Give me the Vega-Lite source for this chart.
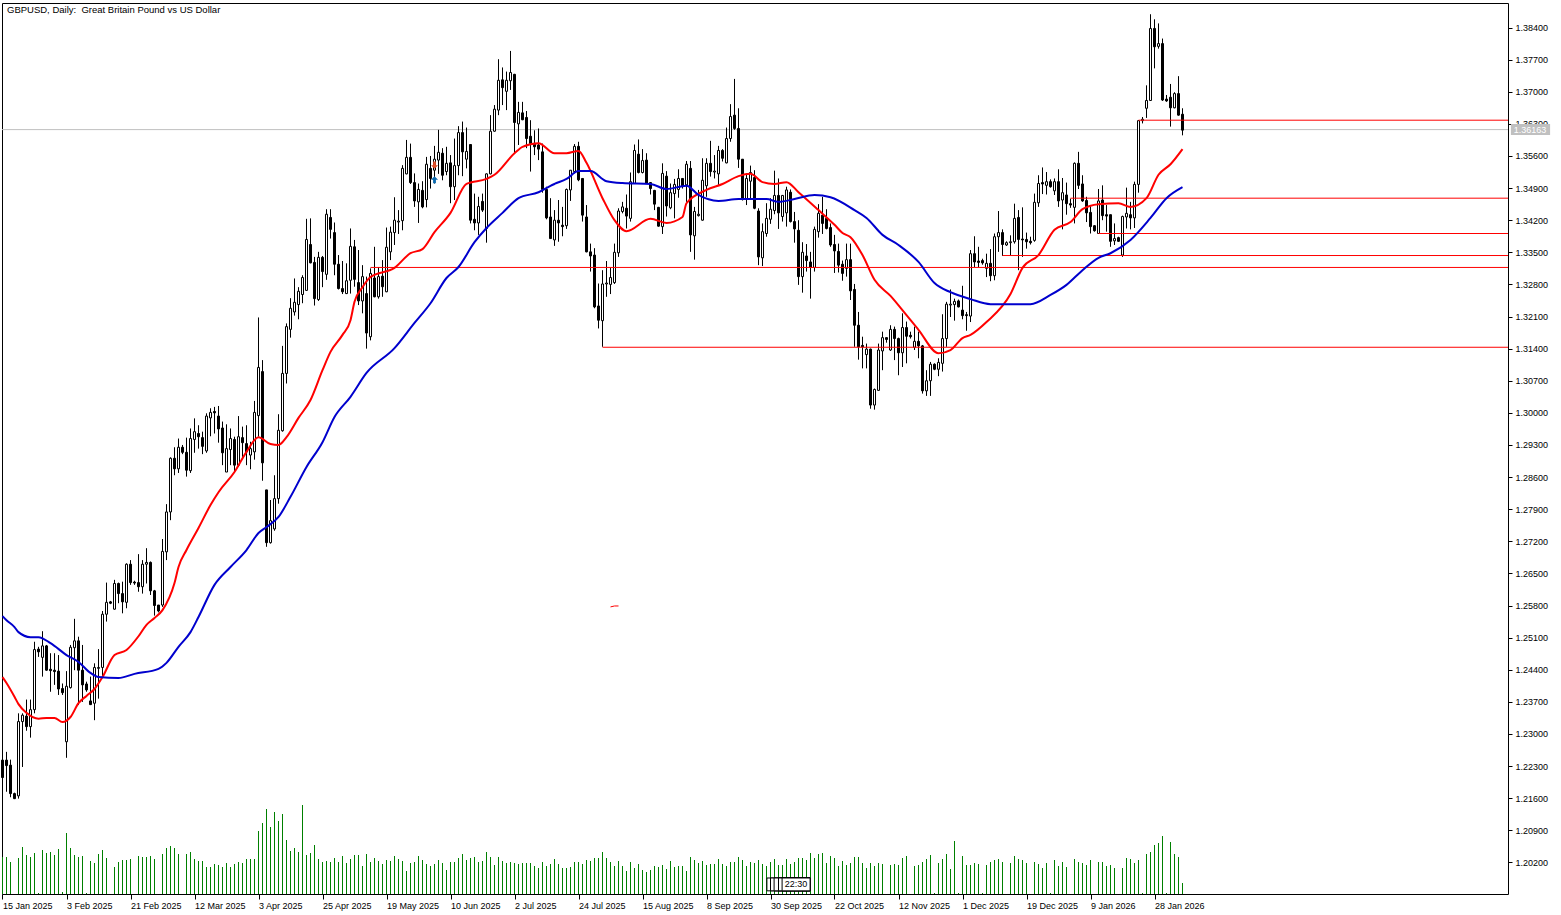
{
"$schema":"https://vega.github.io/schema/vega-lite/v6.json",
"autosize":"none",
"width":1506,"height":891,
"padding":{"left":2,"top":3,"right":53,"bottom":21},
"background":"#ffffff",
"config":{"view":{"stroke":"#000000","strokeWidth":1},"font":"Liberation Sans"},
"title":{"text":"GBPUSD, Daily:\u00a0 Great Britain Pound vs US Dollar","anchor":"start","frame":"group","dx":5,"offset":-11,"fontSize":9.5,"fontWeight":"normal","font":"Liberation Sans","color":"#000000"},
"datasets":{
"bars":[
{"i":0,"o":1.2243,"h":1.2250,"l":1.2200,"c":1.2205,"v":37},
{"i":1,"o":1.2243,"h":1.2261,"l":1.2174,"c":1.2231,"v":37},
{"i":2,"o":1.2232,"h":1.2244,"l":1.2162,"c":1.2170,"v":32},
{"i":3,"o":1.2170,"h":1.2172,"l":1.2158,"c":1.2159,"v":0},
{"i":4,"o":1.2165,"h":1.2345,"l":1.2159,"c":1.2327,"v":36},
{"i":5,"o":1.2327,"h":1.2345,"l":1.2228,"c":1.2341,"v":47},
{"i":6,"o":1.2339,"h":1.2375,"l":1.2307,"c":1.2316,"v":39},
{"i":7,"o":1.2316,"h":1.2375,"l":1.2292,"c":1.2353,"v":37},
{"i":8,"o":1.2353,"h":1.2501,"l":1.2345,"c":1.2484,"v":41},
{"i":9,"o":1.2485,"h":1.2490,"l":1.2468,"c":1.2479,"v":1},
{"i":10,"o":1.2467,"h":1.2524,"l":1.2425,"c":1.2492,"v":44},
{"i":11,"o":1.2492,"h":1.2494,"l":1.2438,"c":1.2439,"v":41},
{"i":12,"o":1.2441,"h":1.2476,"l":1.2392,"c":1.2438,"v":42},
{"i":13,"o":1.2439,"h":1.2476,"l":1.2407,"c":1.2436,"v":39},
{"i":14,"o":1.2437,"h":1.2472,"l":1.2385,"c":1.2398,"v":45},
{"i":15,"o":1.2399,"h":1.2410,"l":1.2385,"c":1.2390,"v":2},
{"i":16,"o":1.2283,"h":1.2437,"l":1.2248,"c":1.2404,"v":61},
{"i":17,"o":1.2401,"h":1.2494,"l":1.2399,"c":1.2489,"v":46},
{"i":18,"o":1.2488,"h":1.2551,"l":1.2439,"c":1.2503,"v":39},
{"i":19,"o":1.2503,"h":1.2512,"l":1.2363,"c":1.2439,"v":37},
{"i":20,"o":1.2439,"h":1.2494,"l":1.2370,"c":1.2407,"v":38},
{"i":21,"o":1.2409,"h":1.2414,"l":1.2392,"c":1.2396,"v":1},
{"i":22,"o":1.2372,"h":1.2425,"l":1.2363,"c":1.2364,"v":33},
{"i":23,"o":1.2367,"h":1.2454,"l":1.2330,"c":1.2445,"v":31},
{"i":24,"o":1.2443,"h":1.2485,"l":1.2377,"c":1.2445,"v":40},
{"i":25,"o":1.2445,"h":1.2568,"l":1.2425,"c":1.2561,"v":44},
{"i":26,"o":1.2561,"h":1.2630,"l":1.2545,"c":1.2587,"v":36},
{"i":27,"o":1.2588,"h":1.2590,"l":1.2583,"c":1.2585,"v":0},
{"i":28,"o":1.2572,"h":1.2636,"l":1.2571,"c":1.2628,"v":27},
{"i":29,"o":1.2628,"h":1.2630,"l":1.2585,"c":1.2606,"v":32},
{"i":30,"o":1.2606,"h":1.2632,"l":1.2563,"c":1.2588,"v":34},
{"i":31,"o":1.2587,"h":1.2672,"l":1.2574,"c":1.2670,"v":34},
{"i":32,"o":1.2670,"h":1.2679,"l":1.2625,"c":1.2630,"v":35},
{"i":33,"o":1.2631,"h":1.2634,"l":1.2625,"c":1.2629,"v":0},
{"i":34,"o":1.2630,"h":1.2692,"l":1.2610,"c":1.2621,"v":38},
{"i":35,"o":1.2621,"h":1.2679,"l":1.2606,"c":1.2670,"v":37},
{"i":36,"o":1.2670,"h":1.2705,"l":1.2628,"c":1.2674,"v":37},
{"i":37,"o":1.2674,"h":1.2676,"l":1.2603,"c":1.2612,"v":38},
{"i":38,"o":1.2612,"h":1.2614,"l":1.2558,"c":1.2580,"v":35},
{"i":39,"o":1.2581,"h":1.2581,"l":1.2565,"c":1.2568,"v":0},
{"i":40,"o":1.2581,"h":1.2725,"l":1.2577,"c":1.2698,"v":40},
{"i":41,"o":1.2697,"h":1.2801,"l":1.2679,"c":1.2784,"v":46},
{"i":42,"o":1.2784,"h":1.2903,"l":1.2766,"c":1.2901,"v":48},
{"i":43,"o":1.2901,"h":1.2925,"l":1.2864,"c":1.2878,"v":46},
{"i":44,"o":1.2878,"h":1.2944,"l":1.2869,"c":1.2925,"v":40},
{"i":45,"o":1.2925,"h":1.2930,"l":1.2910,"c":1.2914,"v":0},
{"i":46,"o":1.2914,"h":1.2946,"l":1.2861,"c":1.2875,"v":40},
{"i":47,"o":1.2874,"h":1.2966,"l":1.2869,"c":1.2944,"v":42},
{"i":48,"o":1.2942,"h":1.2988,"l":1.2913,"c":1.2959,"v":35},
{"i":49,"o":1.2955,"h":1.2973,"l":1.2922,"c":1.2948,"v":33},
{"i":50,"o":1.2946,"h":1.2959,"l":1.2910,"c":1.2927,"v":33},
{"i":51,"o":1.2917,"h":1.2999,"l":1.2913,"c":1.2993,"v":27},
{"i":52,"o":1.2989,"h":1.3010,"l":1.2949,"c":1.3001,"v":27},
{"i":53,"o":1.3003,"h":1.3013,"l":1.2955,"c":1.3000,"v":30},
{"i":54,"o":1.2993,"h":1.3015,"l":1.2935,"c":1.2965,"v":29},
{"i":55,"o":1.2967,"h":1.2981,"l":1.2886,"c":1.2913,"v":27},
{"i":56,"o":1.2871,"h":1.2975,"l":1.2871,"c":1.2922,"v":31},
{"i":57,"o":1.2920,"h":1.2966,"l":1.2886,"c":1.2944,"v":27},
{"i":58,"o":1.2942,"h":1.2948,"l":1.2871,"c":1.2886,"v":30},
{"i":59,"o":1.2886,"h":1.2993,"l":1.2882,"c":1.2948,"v":32},
{"i":60,"o":1.2946,"h":1.2970,"l":1.2904,"c":1.2935,"v":31},
{"i":61,"o":1.2933,"h":1.2973,"l":1.2886,"c":1.2915,"v":35},
{"i":62,"o":1.2908,"h":1.2937,"l":1.2877,"c":1.2922,"v":35},
{"i":63,"o":1.2915,"h":1.3026,"l":1.2898,"c":1.3001,"v":35},
{"i":64,"o":1.2994,"h":1.3208,"l":1.2948,"c":1.3099,"v":63},
{"i":65,"o":1.3090,"h":1.3115,"l":1.2852,"c":1.2891,"v":71},
{"i":66,"o":1.2832,"h":1.2832,"l":1.2708,"c":1.2717,"v":85},
{"i":67,"o":1.2717,"h":1.2810,"l":1.2715,"c":1.2765,"v":67},
{"i":68,"o":1.2747,"h":1.2864,"l":1.2743,"c":1.2813,"v":82},
{"i":69,"o":1.2813,"h":1.2997,"l":1.2802,"c":1.2962,"v":73},
{"i":70,"o":1.2961,"h":1.3146,"l":1.2959,"c":1.3086,"v":80},
{"i":71,"o":1.3086,"h":1.3195,"l":1.3064,"c":1.3188,"v":54},
{"i":72,"o":1.3182,"h":1.3250,"l":1.3164,"c":1.3228,"v":43},
{"i":73,"o":1.3220,"h":1.3293,"l":1.3212,"c":1.3241,"v":46},
{"i":74,"o":1.3236,"h":1.3274,"l":1.3204,"c":1.3265,"v":42},
{"i":75,"o":1.3258,"h":1.3300,"l":1.3239,"c":1.3295,"v":89},
{"i":76,"o":1.3267,"h":1.3423,"l":1.3266,"c":1.3378,"v":39},
{"i":77,"o":1.3367,"h":1.3424,"l":1.3326,"c":1.3327,"v":41},
{"i":78,"o":1.3328,"h":1.3340,"l":1.3234,"c":1.3249,"v":49},
{"i":79,"o":1.3247,"h":1.3351,"l":1.3244,"c":1.3339,"v":35},
{"i":80,"o":1.3339,"h":1.3342,"l":1.3274,"c":1.3308,"v":32},
{"i":81,"o":1.3302,"h":1.3444,"l":1.3290,"c":1.3433,"v":33},
{"i":82,"o":1.3426,"h":1.3444,"l":1.3380,"c":1.3400,"v":32},
{"i":83,"o":1.3393,"h":1.3415,"l":1.3300,"c":1.3324,"v":36},
{"i":84,"o":1.3324,"h":1.3344,"l":1.3269,"c":1.3271,"v":32},
{"i":85,"o":1.3271,"h":1.3331,"l":1.3259,"c":1.3264,"v":38},
{"i":86,"o":1.3260,"h":1.3326,"l":1.3259,"c":1.3288,"v":31},
{"i":87,"o":1.3289,"h":1.3402,"l":1.3260,"c":1.3363,"v":35},
{"i":88,"o":1.3362,"h":1.3377,"l":1.3275,"c":1.3291,"v":39},
{"i":89,"o":1.3284,"h":1.3355,"l":1.3235,"c":1.3244,"v":39},
{"i":90,"o":1.3244,"h":1.3322,"l":1.3217,"c":1.3297,"v":28},
{"i":91,"o":1.3260,"h":1.3297,"l":1.3140,"c":1.3174,"v":40},
{"i":92,"o":1.3166,"h":1.3315,"l":1.3158,"c":1.3304,"v":32},
{"i":93,"o":1.3294,"h":1.3362,"l":1.3252,"c":1.3253,"v":36},
{"i":94,"o":1.3253,"h":1.3318,"l":1.3249,"c":1.3297,"v":33},
{"i":95,"o":1.3298,"h":1.3333,"l":1.3253,"c":1.3275,"v":30},
{"i":96,"o":1.3264,"h":1.3404,"l":1.3263,"c":1.3361,"v":34},
{"i":97,"o":1.3351,"h":1.3406,"l":1.3333,"c":1.3394,"v":33},
{"i":98,"o":1.3393,"h":1.3470,"l":1.3366,"c":1.3420,"v":38},
{"i":99,"o":1.3416,"h":1.3442,"l":1.3390,"c":1.3418,"v":35},
{"i":100,"o":1.3419,"h":1.3540,"l":1.3398,"c":1.3533,"v":33},
{"i":101,"o":1.3521,"h":1.3595,"l":1.3520,"c":1.3557,"v":23},
{"i":102,"o":1.3557,"h":1.3587,"l":1.3499,"c":1.3502,"v":31},
{"i":103,"o":1.3502,"h":1.3522,"l":1.3449,"c":1.3462,"v":32},
{"i":104,"o":1.3460,"h":1.3500,"l":1.3414,"c":1.3487,"v":38},
{"i":105,"o":1.3485,"h":1.3505,"l":1.3446,"c":1.3449,"v":34},
{"i":106,"o":1.3465,"h":1.3558,"l":1.3448,"c":1.3542,"v":30},
{"i":107,"o":1.3533,"h":1.3560,"l":1.3489,"c":1.3511,"v":28},
{"i":108,"o":1.3529,"h":1.3582,"l":1.3500,"c":1.3553,"v":30},
{"i":109,"o":1.3551,"h":1.3617,"l":1.3521,"c":1.3568,"v":34},
{"i":110,"o":1.3566,"h":1.3577,"l":1.3507,"c":1.3518,"v":31},
{"i":111,"o":1.3526,"h":1.3580,"l":1.3518,"c":1.3544,"v":24},
{"i":112,"o":1.3545,"h":1.3562,"l":1.3457,"c":1.3493,"v":32},
{"i":113,"o":1.3493,"h":1.3598,"l":1.3464,"c":1.3539,"v":32},
{"i":114,"o":1.3539,"h":1.3625,"l":1.3518,"c":1.3611,"v":36},
{"i":115,"o":1.3611,"h":1.3635,"l":1.3516,"c":1.3569,"v":40},
{"i":116,"o":1.3553,"h":1.3622,"l":1.3533,"c":1.3570,"v":34},
{"i":117,"o":1.3585,"h":1.3586,"l":1.3413,"c":1.3420,"v":36},
{"i":118,"o":1.3422,"h":1.3478,"l":1.3398,"c":1.3414,"v":37},
{"i":119,"o":1.3414,"h":1.3471,"l":1.3388,"c":1.3450,"v":32},
{"i":120,"o":1.3461,"h":1.3478,"l":1.3438,"c":1.3442,"v":33},
{"i":121,"o":1.3402,"h":1.3522,"l":1.3371,"c":1.3521,"v":42},
{"i":122,"o":1.3521,"h":1.3649,"l":1.3520,"c":1.3614,"v":37},
{"i":123,"o":1.3614,"h":1.3671,"l":1.3613,"c":1.3662,"v":29},
{"i":124,"o":1.3660,"h":1.3771,"l":1.3649,"c":1.3725,"v":37},
{"i":125,"o":1.3726,"h":1.3753,"l":1.3671,"c":1.3709,"v":33},
{"i":126,"o":1.3701,"h":1.3744,"l":1.3660,"c":1.3725,"v":31},
{"i":127,"o":1.3724,"h":1.3789,"l":1.3704,"c":1.3742,"v":32},
{"i":128,"o":1.3738,"h":1.3739,"l":1.3566,"c":1.3633,"v":31},
{"i":129,"o":1.3630,"h":1.3678,"l":1.3584,"c":1.3655,"v":30},
{"i":130,"o":1.3654,"h":1.3678,"l":1.3638,"c":1.3639,"v":31},
{"i":131,"o":1.3644,"h":1.3658,"l":1.3577,"c":1.3598,"v":31},
{"i":132,"o":1.3603,"h":1.3638,"l":1.3526,"c":1.3587,"v":31},
{"i":133,"o":1.3586,"h":1.3616,"l":1.3562,"c":1.3580,"v":28},
{"i":134,"o":1.3584,"h":1.3620,"l":1.3551,"c":1.3575,"v":26},
{"i":135,"o":1.3569,"h":1.3587,"l":1.3480,"c":1.3487,"v":32},
{"i":136,"o":1.3487,"h":1.3493,"l":1.3422,"c":1.3425,"v":28},
{"i":137,"o":1.3427,"h":1.3468,"l":1.3379,"c":1.3380,"v":30},
{"i":138,"o":1.3377,"h":1.3442,"l":1.3364,"c":1.3420,"v":35},
{"i":139,"o":1.3420,"h":1.3464,"l":1.3373,"c":1.3414,"v":30},
{"i":140,"o":1.3409,"h":1.3449,"l":1.3385,"c":1.3406,"v":26},
{"i":141,"o":1.3408,"h":1.3489,"l":1.3401,"c":1.3487,"v":26},
{"i":142,"o":1.3486,"h":1.3529,"l":1.3462,"c":1.3529,"v":27},
{"i":143,"o":1.3526,"h":1.3586,"l":1.3522,"c":1.3581,"v":32},
{"i":144,"o":1.3581,"h":1.3591,"l":1.3505,"c":1.3508,"v":32},
{"i":145,"o":1.3511,"h":1.3511,"l":1.3417,"c":1.3431,"v":30},
{"i":146,"o":1.3427,"h":1.3453,"l":1.3350,"c":1.3351,"v":34},
{"i":147,"o":1.3351,"h":1.3369,"l":1.3308,"c":1.3342,"v":33},
{"i":148,"o":1.3344,"h":1.3359,"l":1.3228,"c":1.3231,"v":36},
{"i":149,"o":1.3233,"h":1.3282,"l":1.3184,"c":1.3202,"v":36},
{"i":150,"o":1.3201,"h":1.3311,"l":1.3144,"c":1.3281,"v":42},
{"i":151,"o":1.3281,"h":1.3331,"l":1.3253,"c":1.3283,"v":36},
{"i":152,"o":1.3280,"h":1.3317,"l":1.3259,"c":1.3295,"v":32},
{"i":153,"o":1.3284,"h":1.3369,"l":1.3281,"c":1.3350,"v":28},
{"i":154,"o":1.3349,"h":1.3446,"l":1.3340,"c":1.3440,"v":33},
{"i":155,"o":1.3439,"h":1.3460,"l":1.3435,"c":1.3449,"v":28},
{"i":156,"o":1.3446,"h":1.3476,"l":1.3402,"c":1.3429,"v":23},
{"i":157,"o":1.3424,"h":1.3524,"l":1.3417,"c":1.3504,"v":32},
{"i":158,"o":1.3500,"h":1.3585,"l":1.3499,"c":1.3572,"v":26},
{"i":159,"o":1.3564,"h":1.3596,"l":1.3522,"c":1.3524,"v":30},
{"i":160,"o":1.3524,"h":1.3575,"l":1.3522,"c":1.3550,"v":24},
{"i":161,"o":1.3551,"h":1.3566,"l":1.3499,"c":1.3500,"v":22},
{"i":162,"o":1.3502,"h":1.3503,"l":1.3476,"c":1.3489,"v":24},
{"i":163,"o":1.3485,"h":1.3486,"l":1.3442,"c":1.3455,"v":28},
{"i":164,"o":1.3448,"h":1.3449,"l":1.3406,"c":1.3407,"v":27},
{"i":165,"o":1.3406,"h":1.3544,"l":1.3390,"c":1.3522,"v":29},
{"i":166,"o":1.3516,"h":1.3527,"l":1.3428,"c":1.3451,"v":25},
{"i":167,"o":1.3447,"h":1.3500,"l":1.3444,"c":1.3480,"v":33},
{"i":168,"o":1.3478,"h":1.3510,"l":1.3424,"c":1.3498,"v":27},
{"i":169,"o":1.3487,"h":1.3531,"l":1.3469,"c":1.3511,"v":28},
{"i":170,"o":1.3511,"h":1.3511,"l":1.3489,"c":1.3494,"v":28},
{"i":171,"o":1.3497,"h":1.3549,"l":1.3460,"c":1.3542,"v":23},
{"i":172,"o":1.3533,"h":1.3549,"l":1.3351,"c":1.3388,"v":37},
{"i":173,"o":1.3386,"h":1.3449,"l":1.3334,"c":1.3439,"v":34},
{"i":174,"o":1.3430,"h":1.3486,"l":1.3428,"c":1.3433,"v":31},
{"i":175,"o":1.3420,"h":1.3555,"l":1.3419,"c":1.3507,"v":33},
{"i":176,"o":1.3495,"h":1.3555,"l":1.3471,"c":1.3544,"v":29},
{"i":177,"o":1.3544,"h":1.3593,"l":1.3515,"c":1.3526,"v":30},
{"i":178,"o":1.3525,"h":1.3562,"l":1.3511,"c":1.3527,"v":30},
{"i":179,"o":1.3521,"h":1.3582,"l":1.3497,"c":1.3572,"v":35},
{"i":180,"o":1.3572,"h":1.3575,"l":1.3548,"c":1.3555,"v":30},
{"i":181,"o":1.3545,"h":1.3622,"l":1.3544,"c":1.3598,"v":28},
{"i":182,"o":1.3598,"h":1.3673,"l":1.3591,"c":1.3646,"v":32},
{"i":183,"o":1.3649,"h":1.3728,"l":1.3617,"c":1.3620,"v":32},
{"i":184,"o":1.3620,"h":1.3664,"l":1.3534,"c":1.3553,"v":37},
{"i":185,"o":1.3553,"h":1.3553,"l":1.3463,"c":1.3465,"v":34},
{"i":186,"o":1.3466,"h":1.3522,"l":1.3453,"c":1.3511,"v":28},
{"i":187,"o":1.3505,"h":1.3539,"l":1.3466,"c":1.3524,"v":32},
{"i":188,"o":1.3513,"h":1.3529,"l":1.3444,"c":1.3446,"v":31},
{"i":189,"o":1.3440,"h":1.3446,"l":1.3322,"c":1.3340,"v":34},
{"i":190,"o":1.3338,"h":1.3413,"l":1.3320,"c":1.3395,"v":30},
{"i":191,"o":1.3391,"h":1.3457,"l":1.3384,"c":1.3424,"v":28},
{"i":192,"o":1.3422,"h":1.3468,"l":1.3412,"c":1.3444,"v":32},
{"i":193,"o":1.3441,"h":1.3528,"l":1.3433,"c":1.3474,"v":35},
{"i":194,"o":1.3474,"h":1.3511,"l":1.3401,"c":1.3436,"v":29},
{"i":195,"o":1.3428,"h":1.3475,"l":1.3417,"c":1.3474,"v":29},
{"i":196,"o":1.3436,"h":1.3493,"l":1.3406,"c":1.3486,"v":35},
{"i":197,"o":1.3481,"h":1.3487,"l":1.3415,"c":1.3417,"v":30},
{"i":198,"o":1.3417,"h":1.3438,"l":1.3371,"c":1.3401,"v":32},
{"i":199,"o":1.3398,"h":1.3420,"l":1.3279,"c":1.3297,"v":36},
{"i":200,"o":1.3297,"h":1.3372,"l":1.3262,"c":1.3350,"v":36},
{"i":201,"o":1.3342,"h":1.3368,"l":1.3308,"c":1.3332,"v":34},
{"i":202,"o":1.3329,"h":1.3351,"l":1.3249,"c":1.3317,"v":41},
{"i":203,"o":1.3317,"h":1.3406,"l":1.3308,"c":1.3400,"v":36},
{"i":204,"o":1.3395,"h":1.3455,"l":1.3382,"c":1.3435,"v":40},
{"i":205,"o":1.3431,"h":1.3471,"l":1.3390,"c":1.3413,"v":41},
{"i":206,"o":1.3424,"h":1.3444,"l":1.3400,"c":1.3402,"v":31},
{"i":207,"o":1.3404,"h":1.3413,"l":1.3362,"c":1.3366,"v":38},
{"i":208,"o":1.3367,"h":1.3388,"l":1.3305,"c":1.3353,"v":36},
{"i":209,"o":1.3352,"h":1.3369,"l":1.3306,"c":1.3322,"v":28},
{"i":210,"o":1.3324,"h":1.3332,"l":1.3288,"c":1.3304,"v":33},
{"i":211,"o":1.3315,"h":1.3369,"l":1.3297,"c":1.3334,"v":29},
{"i":212,"o":1.3334,"h":1.3369,"l":1.3246,"c":1.3266,"v":31},
{"i":213,"o":1.3269,"h":1.3281,"l":1.3144,"c":1.3191,"v":37},
{"i":214,"o":1.3191,"h":1.3220,"l":1.3116,"c":1.3144,"v":37},
{"i":215,"o":1.3147,"h":1.3166,"l":1.3097,"c":1.3144,"v":31},
{"i":216,"o":1.3127,"h":1.3151,"l":1.3097,"c":1.3139,"v":26},
{"i":217,"o":1.3139,"h":1.3140,"l":1.3009,"c":1.3017,"v":31},
{"i":218,"o":1.3017,"h":1.3053,"l":1.3007,"c":1.3051,"v":28},
{"i":219,"o":1.3049,"h":1.3151,"l":1.3048,"c":1.3137,"v":31},
{"i":220,"o":1.3135,"h":1.3177,"l":1.3093,"c":1.3164,"v":30},
{"i":221,"o":1.3164,"h":1.3164,"l":1.3153,"c":1.3160,"v":0},
{"i":222,"o":1.3137,"h":1.3191,"l":1.3135,"c":1.3182,"v":29},
{"i":223,"o":1.3182,"h":1.3188,"l":1.3115,"c":1.3162,"v":30},
{"i":224,"o":1.3162,"h":1.3164,"l":1.3082,"c":1.3131,"v":29},
{"i":225,"o":1.3131,"h":1.3217,"l":1.3100,"c":1.3186,"v":36},
{"i":226,"o":1.3186,"h":1.3199,"l":1.3108,"c":1.3167,"v":38},
{"i":227,"o":1.3169,"h":1.3177,"l":1.3162,"c":1.3166,"v":0},
{"i":228,"o":1.3143,"h":1.3188,"l":1.3137,"c":1.3156,"v":28},
{"i":229,"o":1.3156,"h":1.3177,"l":1.3119,"c":1.3146,"v":29},
{"i":230,"o":1.3146,"h":1.3148,"l":1.3042,"c":1.3048,"v":32},
{"i":231,"o":1.3048,"h":1.3093,"l":1.3037,"c":1.3070,"v":35},
{"i":232,"o":1.3070,"h":1.3111,"l":1.3037,"c":1.3106,"v":39},
{"i":233,"o":1.3106,"h":1.3108,"l":1.3093,"c":1.3095,"v":1},
{"i":234,"o":1.3095,"h":1.3119,"l":1.3080,"c":1.3110,"v":31},
{"i":235,"o":1.3108,"h":1.3215,"l":1.3090,"c":1.3162,"v":35},
{"i":236,"o":1.3162,"h":1.3242,"l":1.3144,"c":1.3237,"v":40},
{"i":237,"o":1.3235,"h":1.3269,"l":1.3209,"c":1.3237,"v":25},
{"i":238,"o":1.3236,"h":1.3249,"l":1.3201,"c":1.3243,"v":53},
{"i":239,"o":1.3244,"h":1.3247,"l":1.3230,"c":1.3231,"v":1},
{"i":240,"o":1.3224,"h":1.3277,"l":1.3204,"c":1.3212,"v":38},
{"i":241,"o":1.3214,"h":1.3220,"l":1.3179,"c":1.3212,"v":29},
{"i":242,"o":1.3211,"h":1.3355,"l":1.3198,"c":1.3347,"v":29},
{"i":243,"o":1.3347,"h":1.3385,"l":1.3318,"c":1.3329,"v":31},
{"i":244,"o":1.3331,"h":1.3362,"l":1.3318,"c":1.3328,"v":30},
{"i":245,"o":1.3332,"h":1.3336,"l":1.3323,"c":1.3327,"v":1},
{"i":246,"o":1.3315,"h":1.3347,"l":1.3296,"c":1.3326,"v":29},
{"i":247,"o":1.3326,"h":1.3357,"l":1.3287,"c":1.3299,"v":32},
{"i":248,"o":1.3299,"h":1.3391,"l":1.3289,"c":1.3384,"v":34},
{"i":249,"o":1.3384,"h":1.3440,"l":1.3351,"c":1.3393,"v":35},
{"i":250,"o":1.3393,"h":1.3400,"l":1.3342,"c":1.3367,"v":32},
{"i":251,"o":1.3366,"h":1.3374,"l":1.3364,"c":1.3371,"v":0},
{"i":252,"o":1.3371,"h":1.3387,"l":1.3344,"c":1.3373,"v":31},
{"i":253,"o":1.3373,"h":1.3456,"l":1.3369,"c":1.3424,"v":38},
{"i":254,"o":1.3426,"h":1.3442,"l":1.3311,"c":1.3378,"v":35},
{"i":255,"o":1.3379,"h":1.3448,"l":1.3340,"c":1.3377,"v":34},
{"i":256,"o":1.3378,"h":1.3393,"l":1.3358,"c":1.3373,"v":31},
{"i":257,"o":1.3374,"h":1.3384,"l":1.3367,"c":1.3371,"v":0},
{"i":258,"o":1.3376,"h":1.3478,"l":1.3373,"c":1.3459,"v":32},
{"i":259,"o":1.3458,"h":1.3518,"l":1.3449,"c":1.3500,"v":30},
{"i":260,"o":1.3502,"h":1.3535,"l":1.3477,"c":1.3499,"v":26},
{"i":261,"o":1.3496,"h":1.3525,"l":1.3476,"c":1.3504,"v":31},
{"i":262,"o":1.3504,"h":1.3509,"l":1.3491,"c":1.3493,"v":1},
{"i":263,"o":1.3484,"h":1.3511,"l":1.3475,"c":1.3504,"v":34},
{"i":264,"o":1.3504,"h":1.3531,"l":1.3449,"c":1.3462,"v":28},
{"i":265,"o":1.3464,"h":1.3512,"l":1.3400,"c":1.3480,"v":32},
{"i":266,"o":1.3475,"h":1.3502,"l":1.3432,"c":1.3456,"v":27},
{"i":267,"o":1.3456,"h":1.3467,"l":1.3447,"c":1.3453,"v":0},
{"i":268,"o":1.3448,"h":1.3546,"l":1.3413,"c":1.3544,"v":35},
{"i":269,"o":1.3544,"h":1.3569,"l":1.3488,"c":1.3496,"v":32},
{"i":270,"o":1.3499,"h":1.3518,"l":1.3460,"c":1.3462,"v":31},
{"i":271,"o":1.3463,"h":1.3471,"l":1.3416,"c":1.3436,"v":29},
{"i":272,"o":1.3437,"h":1.3453,"l":1.3391,"c":1.3406,"v":34},
{"i":273,"o":1.3408,"h":1.3409,"l":1.3395,"c":1.3397,"v":0},
{"i":274,"o":1.3391,"h":1.3488,"l":1.3390,"c":1.3462,"v":32},
{"i":275,"o":1.3464,"h":1.3496,"l":1.3420,"c":1.3430,"v":32},
{"i":276,"o":1.3432,"h":1.3453,"l":1.3395,"c":1.3429,"v":28},
{"i":277,"o":1.3432,"h":1.3432,"l":1.3362,"c":1.3374,"v":29},
{"i":278,"o":1.3375,"h":1.3413,"l":1.3366,"c":1.3380,"v":26},
{"i":279,"o":1.3382,"h":1.3384,"l":1.3373,"c":1.3374,"v":0},
{"i":280,"o":1.3344,"h":1.3430,"l":1.3340,"c":1.3428,"v":26},
{"i":281,"o":1.3427,"h":1.3491,"l":1.3402,"c":1.3435,"v":36},
{"i":282,"o":1.3432,"h":1.3460,"l":1.3400,"c":1.3425,"v":35},
{"i":283,"o":1.3425,"h":1.3504,"l":1.3403,"c":1.3498,"v":31},
{"i":284,"o":1.3498,"h":1.3638,"l":1.3480,"c":1.3637,"v":34},
{"i":285,"o":1.3637,"h":1.3645,"l":1.3631,"c":1.3640,"v":1},
{"i":286,"o":1.3664,"h":1.3714,"l":1.3643,"c":1.3681,"v":40},
{"i":287,"o":1.3681,"h":1.3869,"l":1.3680,"c":1.3838,"v":42},
{"i":288,"o":1.3838,"h":1.3858,"l":1.3751,"c":1.3798,"v":49},
{"i":289,"o":1.3799,"h":1.3849,"l":1.3794,"c":1.3805,"v":51},
{"i":290,"o":1.3805,"h":1.3816,"l":1.3680,"c":1.3682,"v":58},
{"i":291,"o":1.3684,"h":1.3693,"l":1.3678,"c":1.3680,"v":1},
{"i":292,"o":1.3688,"h":1.3717,"l":1.3624,"c":1.3665,"v":52},
{"i":293,"o":1.3665,"h":1.3699,"l":1.3664,"c":1.3696,"v":40},
{"i":294,"o":1.3696,"h":1.3734,"l":1.3648,"c":1.3649,"v":37},
{"i":295,"o":1.3651,"h":1.3664,"l":1.3605,"c":1.36163,"v":11}
],
"red":[
{"i":0,"p":1.2424},{"i":1,"p":1.2411},{"i":3,"p":1.2381},{"i":4,"p":1.2365},{"i":6,"p":1.2346},{"i":9,"p":1.2333},{"i":11,"p":1.2335},{"i":13,"p":1.2335},{"i":15,"p":1.2326},{"i":17,"p":1.2337},{"i":19,"p":1.2367},{"i":21,"p":1.2383},{"i":23,"p":1.2398},{"i":25,"p":1.2424},{"i":28,"p":1.2472},{"i":31,"p":1.2483},{"i":34,"p":1.2513},{"i":36,"p":1.2538},{"i":38,"p":1.2553},{"i":40,"p":1.2570},{"i":43,"p":1.2629},{"i":44,"p":1.2664},{"i":46,"p":1.2701},{"i":49,"p":1.2749},{"i":52,"p":1.2799},{"i":54,"p":1.2827},{"i":58,"p":1.2871},{"i":61,"p":1.2915},{"i":64,"p":1.2947},{"i":67,"p":1.2932},{"i":69,"p":1.2930},{"i":71,"p":1.2947},{"i":74,"p":1.2989},{"i":77,"p":1.3028},{"i":80,"p":1.3093},{"i":82,"p":1.3133},{"i":85,"p":1.3170},{"i":87,"p":1.3202},{"i":88,"p":1.3242},{"i":90,"p":1.3274},{"i":92,"p":1.3296},{"i":98,"p":1.3316},{"i":102,"p":1.3348},{"i":105,"p":1.3357},{"i":108,"p":1.3394},{"i":112,"p":1.3436},{"i":116,"p":1.3499},{"i":121,"p":1.3510},{"i":123,"p":1.3519},{"i":128,"p":1.3566},{"i":130,"p":1.3580},{"i":134,"p":1.3588},{"i":138,"p":1.3566},{"i":141,"p":1.3566},{"i":144,"p":1.3571},{"i":146,"p":1.3545},{"i":150,"p":1.3468},{"i":153,"p":1.3420},{"i":156,"p":1.3396},{"i":162,"p":1.3423},{"i":166,"p":1.3414},{"i":170,"p":1.3427},{"i":171,"p":1.3457},{"i":176,"p":1.3486},{"i":180,"p":1.3499},{"i":184,"p":1.3516},{"i":187,"p":1.3521},{"i":190,"p":1.3503},{"i":193,"p":1.3499},{"i":196,"p":1.3503},{"i":199,"p":1.3481},{"i":204,"p":1.3442},{"i":208,"p":1.3410},{"i":210,"p":1.3392},{"i":212,"p":1.3383},{"i":215,"p":1.3344},{"i":218,"p":1.3290},{"i":222,"p":1.3255},{"i":226,"p":1.3213},{"i":229,"p":1.3181},{"i":234,"p":1.3130},{"i":237,"p":1.3137},{"i":240,"p":1.3163},{"i":242,"p":1.3170},{"i":246,"p":1.3198},{"i":252,"p":1.3259},{"i":255,"p":1.3316},{"i":259,"p":1.3344},{"i":263,"p":1.3399},{"i":267,"p":1.3416},{"i":270,"p":1.3444},{"i":274,"p":1.3455},{"i":279,"p":1.3457},{"i":282,"p":1.3449},{"i":286,"p":1.3468},{"i":289,"p":1.3519},{"i":292,"p":1.3542},{"i":295,"p":1.3575}
],
"blue":[
{"i":0,"p":1.2557},{"i":1,"p":1.2548},{"i":3,"p":1.2533},{"i":4,"p":1.2522},{"i":7,"p":1.2511},{"i":9,"p":1.2511},{"i":12,"p":1.2498},{"i":16,"p":1.2472},{"i":19,"p":1.2457},{"i":22,"p":1.2433},{"i":24,"p":1.2424},{"i":29,"p":1.2422},{"i":33,"p":1.2431},{"i":39,"p":1.2442},{"i":41,"p":1.2455},{"i":44,"p":1.2490},{"i":47,"p":1.2522},{"i":49,"p":1.2555},{"i":53,"p":1.2625},{"i":57,"p":1.2664},{"i":61,"p":1.2701},{"i":64,"p":1.2738},{"i":66,"p":1.2751},{"i":69,"p":1.2773},{"i":72,"p":1.2817},{"i":76,"p":1.2882},{"i":80,"p":1.2936},{"i":83,"p":1.2991},{"i":87,"p":1.3035},{"i":91,"p":1.3087},{"i":98,"p":1.3141},{"i":103,"p":1.3196},{"i":107,"p":1.3239},{"i":111,"p":1.3294},{"i":114,"p":1.3318},{"i":118,"p":1.3372},{"i":121,"p":1.3403},{"i":125,"p":1.3436},{"i":129,"p":1.3468},{"i":134,"p":1.3481},{"i":137,"p":1.3495},{"i":138,"p":1.3499},{"i":141,"p":1.3510},{"i":144,"p":1.3527},{"i":147,"p":1.3527},{"i":151,"p":1.3505},{"i":155,"p":1.3501},{"i":162,"p":1.3499},{"i":166,"p":1.3488},{"i":171,"p":1.3495},{"i":174,"p":1.3475},{"i":179,"p":1.3462},{"i":184,"p":1.3466},{"i":189,"p":1.3466},{"i":191,"p":1.3466},{"i":194,"p":1.3460},{"i":198,"p":1.3466},{"i":203,"p":1.3475},{"i":207,"p":1.3470},{"i":213,"p":1.3442},{"i":216,"p":1.3425},{"i":220,"p":1.3388},{"i":224,"p":1.3366},{"i":229,"p":1.3329},{"i":233,"p":1.3283},{"i":237,"p":1.3263},{"i":242,"p":1.3248},{"i":247,"p":1.3237},{"i":252,"p":1.3237},{"i":257,"p":1.3237},{"i":262,"p":1.3257},{"i":266,"p":1.3279},{"i":270,"p":1.3311},{"i":274,"p":1.3338},{"i":277,"p":1.3348},{"i":282,"p":1.3377},{"i":287,"p":1.3425},{"i":291,"p":1.3468},{"i":295,"p":1.3492}
],
"levels":[
{"from":284,"to":376.375,"p":1.3638},
{"from":267,"to":376.375,"p":1.3468},
{"from":274,"to":376.375,"p":1.3391},
{"from":250,"to":376.375,"p":1.3343},
{"from":92,"to":376.375,"p":1.3317},
{"from":150,"to":376.375,"p":1.3143}
],
"bid":[{"from":-0.125,"to":376.375,"p":1.36175}],
"speck":[{"i":152,"p":1.2577},{"i":153,"p":1.2579},{"i":154,"p":1.2579}],
"arrows":[{"i":108,"p":1.3540,"kind":"sell"},{"i":108,"p":1.3508,"kind":"buy"}],
"tags":[
{"a":191.1,"b":201.9},
{"a":192,"b":201.9},
{"a":192.9,"b":201.9},
{"a":194,"b":201.9},
{"a":194.9,"b":201.9}
]
},
"resolve":{"scale":{"y":"independent"}},
"encoding":{
"x":{"field":"i","type":"quantitative","title":null,
"scale":{"domain":[-0.125,376.375],"nice":false,"zero":false,"padding":0},
"axis":{"orient":"bottom","grid":false,"domain":false,"tickColor":"#000000","tickSize":5,"labelColor":"#000000","labelFont":"Liberation Sans","labelFontSize":9,"labelAlign":"left","labelPadding":2,"labelBaseline":"top","labelOverlap":false,"labelBound":false,"labelFlush":false,
"values":[0,16,32,48,64,80,96,112,128,144,160,176,192,208,224,240,256,272,288],
"labelExpr":"['15 Jan 2025','3 Feb 2025','21 Feb 2025','12 Mar 2025','3 Apr 2025','25 Apr 2025','19 May 2025','10 Jun 2025','2 Jul 2025','24 Jul 2025','15 Aug 2025','8 Sep 2025','30 Sep 2025','22 Oct 2025','12 Nov 2025','1 Dec 2025','19 Dec 2025','9 Jan 2026','28 Jan 2026'][datum.value/16]"}}
},
"layer":[
{"data":{"name":"bars"},
"mark":{"type":"bar","orient":"vertical","size":1,"color":"#008000"},
"encoding":{"y":{"field":"v","type":"quantitative","title":null,"axis":null,"scale":{"domain":[0,891],"nice":false}}}},
{"encoding":{"y":{"type":"quantitative","title":null,"scale":{"domain":[1.19511,1.38935],"nice":false,"zero":false},
"axis":{"orient":"right","grid":false,"domain":false,"tickColor":"#000000","tickSize":4,"labelColor":"#000000","labelFont":"Liberation Sans","labelFontSize":9,"labelPadding":3,"format":".5f","labelOverlap":false,"labelBound":false,"labelFlush":false,
"values":[1.202,1.209,1.216,1.223,1.230,1.237,1.244,1.251,1.258,1.265,1.272,1.279,1.286,1.293,1.300,1.307,1.314,1.321,1.328,1.335,1.342,1.349,1.356,1.363,1.370,1.377,1.384]}}},
"layer":[
{"data":{"name":"bid"},"mark":{"type":"rule","color":"#c0c0c0","strokeWidth":1},"encoding":{"x":{"field":"from"},"x2":{"field":"to"},"y":{"field":"p"}}},
{"data":{"name":"bars"},"mark":{"type":"rule","color":"#000000","strokeWidth":1},"encoding":{"y":{"field":"h"},"y2":{"field":"l"}}},
{"data":{"name":"bars"},"mark":{"type":"bar","orient":"vertical","size":2,"stroke":"#000000","strokeWidth":1},"encoding":{"y":{"field":"o"},"y2":{"field":"c"},"fill":{"condition":{"test":"datum.c>=datum.o","value":"#ffffff"},"value":"#000000"}}},
{"data":{"name":"levels"},"mark":{"type":"rule","color":"#ff0000","strokeWidth":1},"encoding":{"x":{"field":"from"},"x2":{"field":"to"},"y":{"field":"p"}}},
{"data":{"name":"red"},"mark":{"type":"line","color":"#ff0000","strokeWidth":2,"interpolate":"monotone"},"encoding":{"y":{"field":"p"}}},
{"data":{"name":"blue"},"mark":{"type":"line","color":"#0000cd","strokeWidth":2,"interpolate":"monotone"},"encoding":{"y":{"field":"p"}}},
{"data":{"name":"speck"},"mark":{"type":"line","color":"#ff0000","strokeWidth":1},"encoding":{"y":{"field":"p"}}},
{"data":{"name":"arrows"},"mark":{"type":"point","filled":true,"size":50,"opacity":1},"encoding":{"y":{"field":"p"},
"shape":{"field":"kind","type":"nominal","legend":null,"scale":{"domain":["buy","sell"],"range":["M0,-1L1,0L0.4,0L0.4,1L-0.4,1L-0.4,0L-1,0Z","M0,1L1,0L0.4,0L0.4,-1L-0.4,-1L-0.4,0L-1,0Z"]}},
"color":{"field":"kind","type":"nominal","legend":null,"scale":{"domain":["buy","sell"],"range":["#0a6ab0","#e2502a"]}}}},
{"data":{"name":"tags"},"mark":{"type":"rect","fill":"#ffffff","stroke":"#000000","strokeWidth":1},"encoding":{"x":{"field":"a"},"x2":{"field":"b"},"y":{"datum":1.1986},"y2":{"datum":1.1958}}},
{"data":{"values":[{"i":198.4,"p":1.1972,"t":"22:30"}]},"mark":{"type":"text","fontSize":9,"font":"Liberation Sans","color":"#000000"},"encoding":{"y":{"field":"p"},"text":{"field":"t"}}},
{"data":{"values":[{"a":377.1,"b":386.9,"p1":1.36297,"p2":1.36057}]},"mark":{"type":"rect","fill":"#c0c0c0"},"encoding":{"x":{"field":"a"},"x2":{"field":"b"},"y":{"field":"p1"},"y2":{"field":"p2"}}},
{"data":{"values":[{"a":377.8,"p":1.36163,"t":"1.36163"}]},"mark":{"type":"text","fontSize":9,"font":"Liberation Sans","color":"#ffffff","align":"left"},"encoding":{"x":{"field":"a"},"y":{"field":"p"},"text":{"field":"t"}}}
]}
]
}
